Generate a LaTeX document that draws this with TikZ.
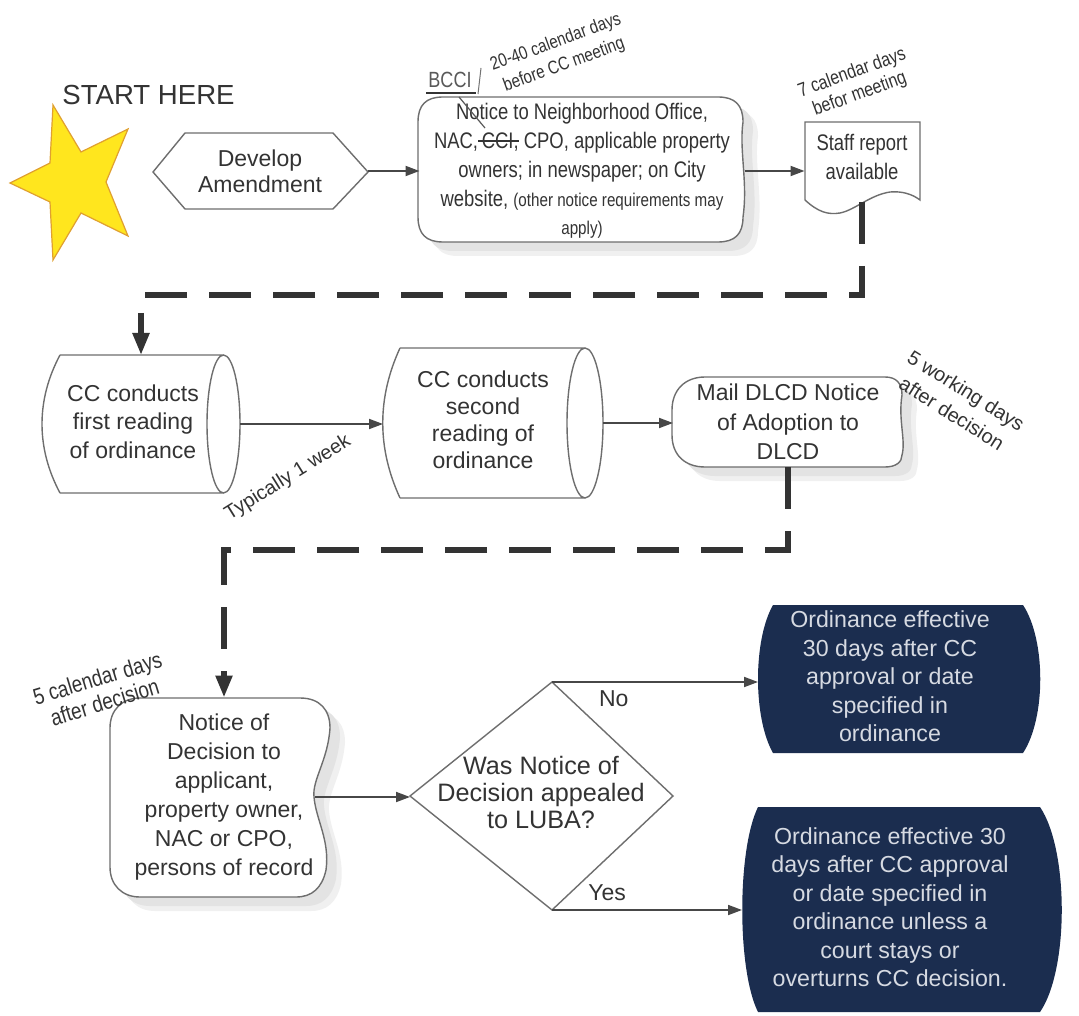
\documentclass[tikz,border=0pt]{standalone}
\usepackage{fontspec}
\setmainfont{Liberation Sans}
\newfontfamily\narrowfont[FakeStretch=0.82]{Liberation Sans}
\usetikzlibrary{arrows.meta,shapes.geometric,calc}
\definecolor{txt}{HTML}{333333}
\definecolor{navy}{HTML}{1B2D4F}
\definecolor{navytxt}{HTML}{D6DAE2}
\definecolor{starfill}{HTML}{FFE61E}
\definecolor{starline}{HTML}{E0A030}
\definecolor{edge}{HTML}{6E6E6E}
\newdimen\pxu \pxu=0.5pt
\newcommand\strk[1]{\setbox0\hbox{#1}\rlap{\rule[0.3em]{\wd0}{0.06em}}\box0\relax}
\newcommand\fs[2]{\fontsize{#1}{#2}\selectfont}
\begin{document}
\begin{tikzpicture}[x=0.5pt,y=-0.5pt,
  shapeline/.style={draw=edge, line width=0.7pt},
  textbox/.style={align=center, inner sep=0pt, outer sep=0pt, text=txt},
  conn/.style={draw=black!72, line width=0.9pt, -{Triangle[length=7pt,width=5pt]}},
  dconn/.style={draw=black!80, line width=2.6pt, dash pattern=on 21pt off 11pt, -{Triangle[length=11pt,width=8pt]}},
  note/.style={inner sep=0pt, align=center, text=txt}
]
\useasboundingbox (0,0) rectangle (1079,1015);
\fill[white] (0,0) rectangle (1079,1015);

% ---------- star
\filldraw[fill=starfill, draw=starline, line width=0.6pt] (10,183) -- (50,163) -- (53,105) -- (81,152) -- (128,129) -- (106,182) -- (128,236) -- (81,213) -- (53,260) -- (50,202) -- cycle;
\node[note, anchor=west, font=\fs{13.8pt}{16pt}] (start) at (62,95) {START HERE};

% ---------- develop amendment
\node[textbox, minimum width=107.5pt, minimum height=38pt, font=\fs{11.5pt}{13pt}] (dev) at (260,171) {Develop\\Amendment};
\draw[shapeline] (153,172) -- (185,133) -- (333,133) -- (368,172) -- (333,209) -- (185,209) -- cycle;

% ---------- notice box
\def\noticepath{(443,97) -- (718,97) .. controls (735,97) and (743,105) .. (743,122) .. controls (739,150) and (748,182) .. (743,217) .. controls (743,234) and (735,242) .. (718,242) -- (443,242) .. controls (426,242) and (418,234) .. (418,217) -- (418,122) .. controls (418,105) and (426,97) .. (443,97) -- cycle}
\fill[black!6, shift={(15,14)}] \noticepath;
\fill[black!11, shift={(10,9)}] \noticepath;
\filldraw[fill=white, draw=edge, line width=0.7pt] \noticepath;
\node[textbox, minimum width=162.5pt, minimum height=72.5pt, font=\narrowfont\fs{11.25pt}{14.4pt}] (notice) at (582,171)
 {Notice to Neighborhood Office,\\NAC,\strk{\,CCI,} CPO, applicable property\\owners; in newspaper; on City\\website, {\fs{9.25pt}{14.4pt}(other notice requirements may}\\{\fs{9.25pt}{14.4pt}apply)}};

% BCCI correction
\node[note, font=\narrowfont\fs{11pt}{12pt}, text=black!65] (bcci) at (450,80) {BCCI};
\draw[black!80, line width=1.1pt] (426,93) -- (476,93);
\draw[black!55, line width=0.5pt] (481,68) -- (478,94);
\draw[black!65, line width=0.6pt] (459,97) -- (485,128);
\node[note, rotate=20, font=\narrowfont\fs{9.25pt}{12pt}] (lab1) at (560,54) {20-40 calendar days\\before CC meeting};

% ---------- staff report
\def\staffpath{(805,122) -- (920,122) -- (920,200) .. controls (912,194) and (902,191) .. (890,192) .. controls (870,195) and (855,210) .. (840,213) .. controls (828,215) and (818,212) .. (805,200) -- cycle}
\filldraw[fill=white, draw=edge, line width=0.7pt] \staffpath;
\node[textbox, minimum width=57.5pt, minimum height=45pt, font=\narrowfont\fs{11.25pt}{14.5pt}] (staff) at (862,157) {Staff report\\available};
\node[note, rotate=20, font=\narrowfont\fs{9.75pt}{11.2pt}] (lab2) at (856,84) {7 calendar days\\befor meeting};

% ---------- first reading
\node[textbox, minimum width=99pt, minimum height=69pt, font=\fs{11.5pt}{14.25pt}] (first) at (141,424)
 {\kern-16\pxu\begin{tabular}{@{}c@{}}CC conducts\\first reading\\of ordinance\end{tabular}};
\draw[shapeline] (60,355) -- (223,355) (60,493) -- (223,493)
  (60,355) .. controls (36,400) and (36,448) .. (60,493)
  (223.5,424) ellipse [x radius=8.25pt, y radius=34.5pt];

% ---------- second reading
\node[textbox, minimum width=110pt, minimum height=75pt, font=\fs{11.5pt}{13.5pt}] (second) at (493,423)
 {\kern-20\pxu\begin{tabular}{@{}c@{}}CC conducts\\second\\reading of\\ordinance\end{tabular}};
\draw[shapeline] (400,348) -- (585,348) (400,498) -- (585,498)
  (400,348) .. controls (377,398) and (377,448) .. (400,498)
  (585,423) ellipse [x radius=9pt, y radius=37.5pt];
\node[note, rotate=32, font=\fs{9.9pt}{12pt}] (lab5) at (288,478) {Typically 1 week};

% ---------- mail DLCD
\def\mailpath{(705,377) -- (885,377) .. controls (896,377) and (902,383) .. (902,395) .. controls (898,420) and (906,440) .. (902,455) .. controls (902,462) and (896,467) .. (885,467) -- (705,467) .. controls (685,467) and (672,455) .. (672,435) -- (672,410) .. controls (672,390) and (685,377) .. (705,377) -- cycle}
\fill[black!6, shift={(15,14)}] \mailpath;
\fill[black!11, shift={(10,9)}] \mailpath;
\filldraw[fill=white, draw=edge, line width=0.7pt] \mailpath;
\node[textbox, minimum width=115pt, minimum height=45pt, font=\fs{11.5pt}{14.75pt}] (mail) at (788,422) {Mail DLCD Notice\\of Adoption to\\DLCD};
\node[note, rotate=-32, font=\fs{10pt}{13.5pt}] (lab4) at (959,402) {5 working days\\after decision};

% ---------- notice of decision
\def\nodpath{(140,698) -- (300,698) .. controls (320,698) and (330,710) .. (330,728) .. controls (328,760) and (312,780) .. (314,797) .. controls (316,820) and (330,840) .. (326,870) .. controls (322,888) and (312,897) .. (296,897) -- (140,897) .. controls (122,897) and (110,885) .. (110,867) -- (110,728) .. controls (110,710) and (122,698) .. (140,698) -- cycle}
\fill[black!6, shift={(15,14)}] \nodpath;
\fill[black!11, shift={(10,9)}] \nodpath;
\filldraw[fill=white, draw=edge, line width=0.7pt] \nodpath;
\node[textbox, minimum width=91pt, minimum height=99.5pt, font=\fs{11.5pt}{14.5pt}] (nod) at (224,797)
 {Notice of\\Decision to\\applicant,\\property owner,\\NAC or CPO,\\persons of record};
\node[note, rotate=17, font=\narrowfont\fs{11.5pt}{12.5pt}] (lab3) at (101,690) {5 calendar days\\after decision};

% ---------- decision diamond
\node[textbox, minimum width=142pt, minimum height=114pt, font=\fs{12.6pt}{13.5pt}] (dec) at (552,796)
 {\kern-22\pxu\begin{tabular}{@{}c@{}}Was Notice of\\Decision appealed\\to LUBA?\end{tabular}};
\draw[shapeline] (dec.west) -- (dec.north) -- (673,796) -- (dec.south) -- cycle;

% ---------- ordinance outcomes
\fill[navy] (773,605) -- (1023,605) .. controls (1046,640) and (1046,718) .. (1023,753) -- (773,753) .. controls (753,718) and (753,640) .. (773,605) -- cycle;
\node[textbox, text=navytxt, minimum width=141pt, minimum height=74pt, font=\fs{11.6pt}{14.25pt}] (ord1) at (899,679)
 {\kern-18\pxu\begin{tabular}{@{}c@{}}Ordinance effective\\30 days after CC\\approval or date\\specified in\\ordinance\end{tabular}};
\fill[navy] (758,807) -- (1040,807) .. controls (1069,850) and (1069,970) .. (1040,1012) -- (758,1012) .. controls (737,970) and (737,850) .. (758,807) -- cycle;
\node[textbox, text=navytxt, minimum width=160pt, minimum height=102.5pt, font=\fs{11.6pt}{14.25pt}] (ord2) at (902,910)
 {\kern-24\pxu\begin{tabular}{@{}c@{}}Ordinance effective 30\\days after CC approval\\or date specified in\\ordinance unless a\\court stays or\\overturns CC decision.\end{tabular}};

% ---------- connectors
\draw[conn] (dev.east) -- (dev.east -| notice.west);
\draw[conn] (notice.east) -- (notice.east -| staff.west);
\draw[dconn] (staff.south) -- ++(0,93) -| (first.north);
\draw[conn] (first.east) -- (first.east -| second.west);
\draw[conn] (second.east) -- (second.east -| mail.west);
\draw[dconn] (mail.south) -- ++(0,83) -| (nod.north);
\draw[conn] (nod.east) -- (nod.east -| dec.west);
\draw[conn] (dec.north) -- (dec.north -| ord1.west) node[pos=0.3, below=4pt, note, font=\fs{11.5pt}{13pt}] (no) {No};
\draw[conn] (dec.south) -- (dec.south -| ord2.west) node[pos=0.29, above=4pt, note, font=\fs{11.5pt}{13pt}] (yes) {Yes};
\end{tikzpicture}
\end{document}
